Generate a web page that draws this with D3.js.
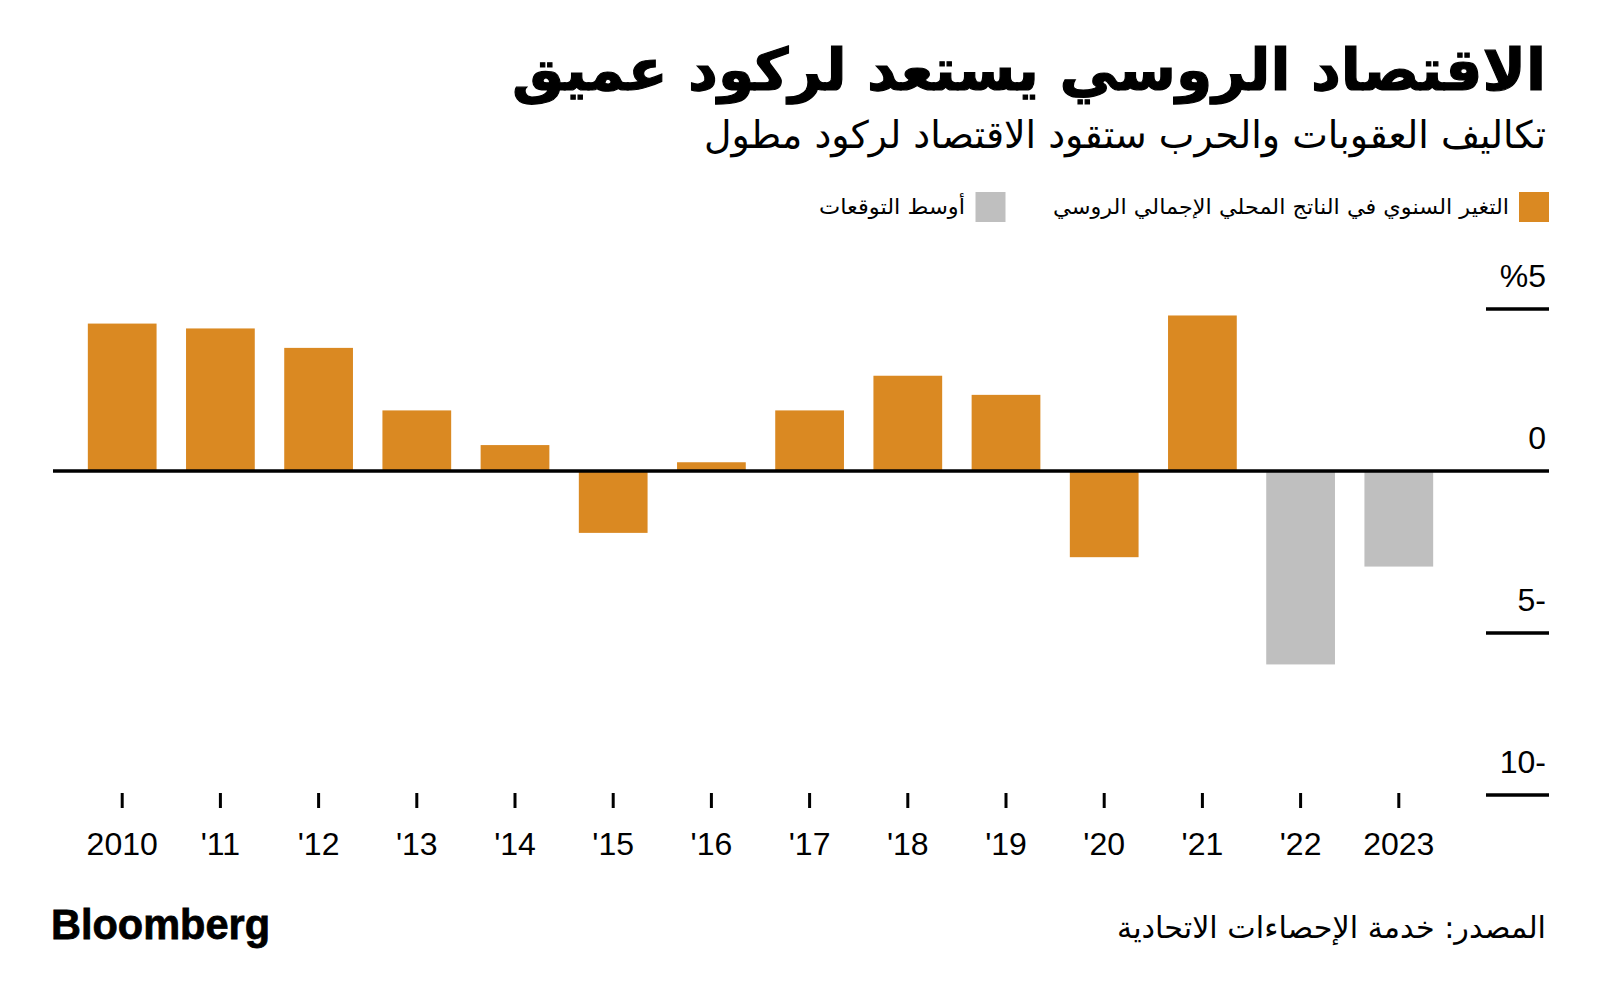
<!DOCTYPE html>
<html><head><meta charset="utf-8">
<script src="https://cdn.jsdelivr.net/npm/d3@7"></script>
<style>
html,body{margin:0;padding:0;background:#fff;}
svg{display:block;}
.ar{font-family:"DejaVu Sans","Noto Sans",sans-serif;}
.num{font-family:"Liberation Sans",Arial,sans-serif;}
</style></head>
<body>
<svg id="chart" width="1600" height="1004"></svg>
<script>
const years = [2010,2011,2012,2013,2014,2015,2016,2017,2018,2019,2020,2021,2022,2023];
const yearLabels = ["2010","'11","'12","'13","'14","'15","'16","'17","'18","'19","'20","'21","'22","2023"];
const gdpChange = [4.55,4.4,3.8,1.87,0.8,-1.91,0.27,1.87,2.94,2.35,-2.66,4.8,-5.97,-2.95];
const isForecast = [false,false,false,false,false,false,false,false,false,false,false,false,true,true];
const yTicks = [5,0,-5,-10];
const yTickLabels = ["%5","0","5-","10-"];
const title = "الاقتصاد الروسي يستعد لركود عميق";
const subtitle = "تكاليف العقوبات والحرب ستقود الاقتصاد لركود مطول";
const legendLabels = ["التغير السنوي في الناتج المحلي الإجمالي الروسي","أوسط التوقعات"];
const source = "المصدر: خدمة الإحصاءات الاتحادية";

const ORANGE = "#DA8922", GREY = "#BFBFBF";
const svg = d3.select("#chart");

// Title & subtitle
svg.append("text").attr("class","ar").attr("x",1546).attr("y",90)
  .attr("text-anchor","start").attr("direction","rtl")
  .attr("font-size",58).attr("font-weight",700).attr("fill","#000")
  .attr("stroke","#000").attr("stroke-width",1.2)
  .attr("textLength",1034).attr("lengthAdjust","spacingAndGlyphs")
  .text(title);
svg.append("text").attr("class","ar").attr("x",1546).attr("y",148)
  .attr("text-anchor","start").attr("direction","rtl")
  .attr("font-size",38).attr("font-weight",400).attr("fill","#000")
  .attr("textLength",842).attr("lengthAdjust","spacingAndGlyphs")
  .text(subtitle);

// Legend
const legend = [
  {sx:1519, tx:1509, w:456, color:ORANGE, label:legendLabels[0]},
  {sx:975.5, tx:965, w:146, color:GREY, label:legendLabels[1]}
];
legend.forEach(l=>{
  svg.append("rect").attr("x",l.sx).attr("y",192).attr("width",30).attr("height",30).attr("fill",l.color);
  svg.append("text").attr("class","ar").attr("x",l.tx).attr("y",214)
    .attr("text-anchor","start").attr("direction","rtl")
    .attr("font-size",21).attr("fill","#000")
    .attr("textLength",l.w).attr("lengthAdjust","spacingAndGlyphs")
    .text(l.label);
});

// Scales
const x = d3.scaleBand().domain(years).range([73.1,1447.9]).paddingInner(0.3).paddingOuter(0.15);
const y = d3.scaleLinear().domain([-10,5]).range([795,309]);

// Bars
svg.append("g").selectAll("rect").data(years).join("rect")
  .attr("x",d=>x(d)).attr("width",x.bandwidth())
  .attr("y",(d,i)=>y(Math.max(0,gdpChange[i])))
  .attr("height",(d,i)=>Math.abs(y(gdpChange[i])-y(0)))
  .attr("fill",(d,i)=>isForecast[i]?GREY:ORANGE);

// Y ticks (right side)
const yg = svg.append("g");
yTicks.forEach((t,i)=>{
  const yy = y(t);
  yg.append("line").attr("x1", t===0?53:1486).attr("x2",1549)
    .attr("y1",yy).attr("y2",yy).attr("stroke","#000").attr("stroke-width",3.5);
  yg.append("text").attr("class","num").attr("x",1546).attr("y",yy-22)
    .attr("text-anchor","end").attr("font-size",32).attr("fill","#000")
    .text(yTickLabels[i]);
});

// X axis
const xAxis = d3.axisBottom(x).tickSize(15).tickPadding(0)
  .tickFormat((d,i)=>yearLabels[i]);
const xg = svg.append("g").attr("transform","translate(0,793)").call(xAxis);
xg.select(".domain").remove();
xg.selectAll(".tick line").attr("stroke","#000").attr("stroke-width",3);
xg.selectAll(".tick text").attr("class","num").attr("font-size",32).attr("fill","#000")
  .attr("y",62).attr("dy",0).attr("font-family","Liberation Sans, Arial, sans-serif");

// Footer
svg.append("text").attr("x",51).attr("y",939)
  .attr("font-family","Liberation Sans, Arial, sans-serif").attr("font-weight",700)
  .attr("font-size",43).attr("fill","#000").attr("stroke","#000").attr("stroke-width",0.8)
  .attr("textLength",219).attr("lengthAdjust","spacingAndGlyphs")
  .text("Bloomberg");
svg.append("text").attr("class","ar").attr("x",1546).attr("y",938)
  .attr("text-anchor","start").attr("direction","rtl")
  .attr("font-size",30).attr("fill","#000")
  .attr("textLength",429).attr("lengthAdjust","spacingAndGlyphs")
  .text(source);
</script>
</body></html>
